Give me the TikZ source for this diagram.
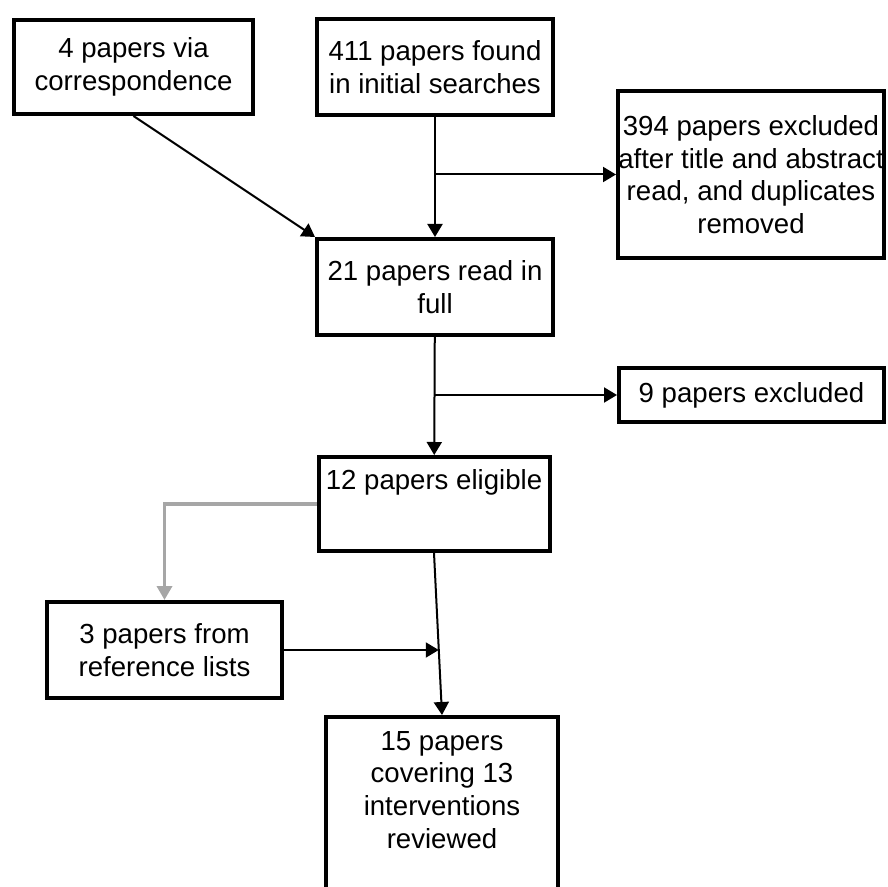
\documentclass[tikz,border=0pt]{standalone}
\usepackage{fontspec}
\setmainfont{Liberation Sans}
\usepackage{tikz}
\usetikzlibrary{arrows.meta,positioning,calc}

\begin{document}
\begin{tikzpicture}[
  x=0.5pt, y=-0.5pt,
  every node/.style={font=\fontsize{13.8}{16.3}\selectfont},
  stepbox/.style={rectangle, draw, line width=2pt, align=center, inner sep=0pt},
  arr/.style={-{Triangle[length=6.5pt,width=7.5pt]}, line width=1pt},
  grayarr/.style={-{Triangle[length=7pt,width=7.5pt]}, line width=1.8pt, color=black!35},
]
\useasboundingbox (0,0) rectangle (888,887);
\clip (0,0) rectangle (888,887);

% Boxes
\node[stepbox, minimum width=119.5pt, minimum height=47pt] (corr) at (133.5,67)
  {4 papers via\\correspondence};
\node[stepbox, minimum width=118pt, minimum height=48pt] (found) at (435,67)
  {411 papers found\\in initial searches};
\node[stepbox, minimum width=133pt, minimum height=83.5pt] (excl1) at (751,174.5)
  {394 papers excluded\\after title and abstract\\read, and duplicates\\removed};
\node[stepbox, minimum width=118pt, minimum height=48pt] (full) at (435,287)
  {21 papers read in\\full};
\node[stepbox, minimum width=132.5pt, minimum height=27pt] (excl2) at (751.5,395)
  {9 papers excluded};
\node[stepbox, minimum width=115.5pt, minimum height=47pt] (elig) at (434,504) {};
\node[anchor=base] (eligtxt) at (434,489) {12 papers eligible};
\node[stepbox, minimum width=117.5pt, minimum height=48pt] (refs) at (164.5,650)
  {3 papers from\\reference lists};
\node[stepbox, minimum width=116pt, minimum height=123pt] (final) at (442,840) {};
\node[anchor=north, align=center, inner sep=0pt] (finaltxt) at (442,731)
  {15 papers\\covering 13\\interventions\\reviewed};

% Arrows
\draw[arr] (corr.south) -- (full.north west);
\draw[arr] (found) -- (full);
\draw[arr] (found.south |- excl1.west) -- (excl1.west);
\draw[arr] (full) -- (elig);
\draw[arr] (full.south |- excl2.west) -- (excl2.west);
\draw[arr] (elig.south) -- (final.north);
\coordinate (join) at ($(elig.south)!0.596!(final.north)$);
\draw[arr] (refs.east) -- (refs.east -| join);
\draw[grayarr] (elig.west) -| (refs.north);

\end{tikzpicture}
\end{document}
